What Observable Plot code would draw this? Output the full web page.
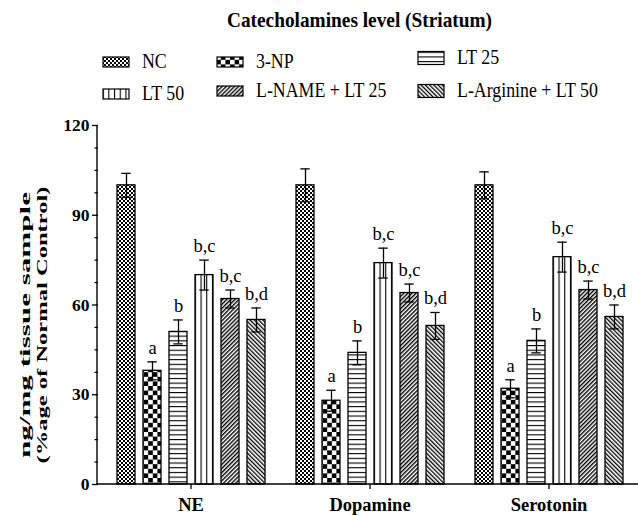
<!DOCTYPE html>
<html>
<head>
<meta charset="utf-8">
<script src="https://cdn.jsdelivr.net/npm/d3@7"></script>
<script src="https://cdn.jsdelivr.net/npm/@observablehq/plot@0.6"></script>
<style>
  body { margin: 0; background: #fff; }
  #chart { width: 638px; height: 515px; position: relative; overflow: hidden; background: #fff;
           font-family: "Liberation Serif", "Times New Roman", serif; }
  #chart svg { display: block; }
  #chart svg text { font-family: "Liberation Serif", "Times New Roman", serif; }
</style>
</head>
<body>
<div id="chart"></div>
<script>
// Brain regions measured (one bar group each)
const groups = ["NE", "Dopamine", "Serotonin"];
// Treatment groups (one bar per group)
const series = ["NC", "3-NP", "LT 25", "LT 50", "L-NAME + LT 25", "L-Arginine + LT 50"];
// Mean level, % of normal control
const neMeans = [100, 38, 51, 70, 62, 55];
const dopamineMeans = [100, 28, 44, 74, 64, 53];
const serotoninMeans = [100, 32, 48, 76, 65, 56];
// Error (±)
const neErrors = [4, 3, 4, 5, 3, 4];
const dopamineErrors = [5.5, 3.5, 4, 5, 3, 4.5];
const serotoninErrors = [4.5, 3, 4, 5, 3, 4];
// Significance letters above each bar
const significance = ["", "a", "b", "b,c", "b,c", "b,d"];
// Axis ticks
const yTicks = [0, 30, 60, 90, 120];
const yMinorTicks = [7.5, 15, 22.5, 37.5, 45, 52.5, 67.5, 75, 82.5, 97.5, 105, 112.5];

const title = "Catecholamines level (Striatum)";
const yLabelLines = ["ng/mg tissue sample", "(%age of Normal Control)"];

const means = [neMeans, dopamineMeans, serotoninMeans];
const errors = [neErrors, dopamineErrors, serotoninErrors];
const rows = groups.flatMap((g, gi) => series.map((s, si) => ({
  group: g, series: s, mean: means[gi][si], err: errors[gi][si], sig: significance[si]
})));

const serif = '"Liberation Serif", "Times New Roman", serif';
const patternIds = ["pat-nc", "pat-np", "pat-lt25", "pat-lt50", "pat-lname", "pat-larg"];
const fillOf = (s) => `url(#${patternIds[series.indexOf(s)]})`;

// ---------- header: title, legend and shared hatch patterns ----------
const header = d3.select("#chart").append("svg")
  .attr("width", 638).attr("height", 110)
  .attr("font-family", serif);

const defs = header.append("defs");
function pattern(id, w, h, transform) {
  const p = defs.append("pattern").attr("id", id)
    .attr("patternUnits", "userSpaceOnUse").attr("width", w).attr("height", h);
  if (transform) p.attr("patternTransform", transform);
  p.append("rect").attr("width", w).attr("height", h).attr("fill", "white");
  return p;
}
// NC: fine checkerboard
let p = pattern("pat-nc", 4, 4);
p.append("rect").attr("width", 2).attr("height", 2).attr("fill", "black");
p.append("rect").attr("x", 2).attr("y", 2).attr("width", 2).attr("height", 2).attr("fill", "black");
// 3-NP: coarse checkerboard
p = pattern("pat-np", 9.2, 9.2);
p.append("rect").attr("width", 4.6).attr("height", 4.6).attr("fill", "black");
p.append("rect").attr("x", 4.6).attr("y", 4.6).attr("width", 4.6).attr("height", 4.6).attr("fill", "black");
// LT 25: horizontal lines
p = pattern("pat-lt25", 8, 4.7);
p.append("rect").attr("y", 0).attr("width", 8).attr("height", 1.1).attr("fill", "black");
// LT 50: vertical lines
p = pattern("pat-lt50", 5.7, 8);
p.append("rect").attr("x", 0).attr("width", 1.1).attr("height", 8).attr("fill", "black");
// L-NAME + LT 25: forward diagonals
p = pattern("pat-lname", 2.9, 10, "rotate(45)");
p.append("rect").attr("width", 1.4).attr("height", 10).attr("fill", "black");
// L-Arginine + LT 50: backward diagonals
p = pattern("pat-larg", 3, 10, "rotate(-45)");
p.append("rect").attr("width", 1.3).attr("height", 10).attr("fill", "black");

header.append("text")
  .attr("x", 359.5).attr("y", 27)
  .attr("text-anchor", "middle")
  .attr("font-family", serif)
  .attr("font-weight", "bold").attr("font-size", 21.5)
  .attr("textLength", 265).attr("lengthAdjust", "spacingAndGlyphs")
  .text(title);

// legend: three columns, two rows; text is slightly condensed
const legendCols = [103, 217, 418];
const legendBaselines = [[68, 68, 64], [100, 97, 97]];
const swatchHeights = [10, 10, 13, 10, 10, 13];
series.forEach((s, i) => {
  const col = i % 3, row = Math.floor(i / 3);
  const x = legendCols[col], base = legendBaselines[row][col];
  const h = swatchHeights[i];
  const g = header.append("g");
  g.append("rect")
    .attr("x", x).attr("y", base - 6 - h / 2)
    .attr("width", 26).attr("height", h)
    .attr("fill", fillOf(s)).attr("stroke", "black").attr("stroke-width", 1.2);
  g.append("text")
    .attr("transform", `translate(${x + 39},${base}) scale(0.87,1)`)
    .attr("font-family", serif)
    .attr("font-size", 20.5)
    .text(s);
});

// ---------- grouped bar chart ----------
const plot = Plot.plot({
  width: 638,
  height: 405,
  marginTop: 15,
  marginBottom: 31,
  marginLeft: 100,
  marginRight: 0,
  style: { fontFamily: serif, background: "white", color: "black" },
  fx: { domain: groups, padding: 0, label: null },
  x: { domain: series, paddingInner: 0.31, paddingOuter: 0.51, axis: null },
  y: { domain: [0, 120], label: null },
  color: { type: "identity" },
  marks: [
    Plot.barY(rows, {
      fx: "group", x: "series", y: "mean",
      fill: (d) => fillOf(d.series), stroke: "black", strokeWidth: 1.3
    }),
    Plot.ruleX(rows, {
      fx: "group", x: "series",
      y1: (d) => d.mean - d.err, y2: (d) => d.mean + d.err,
      stroke: "black", strokeWidth: 1.3
    }),
    Plot.tickY(rows, {
      fx: "group", x: "series", y: (d) => d.mean + d.err,
      insetLeft: 4.3, insetRight: 4.3, stroke: "black", strokeWidth: 1.3
    }),
    Plot.tickY(rows, {
      fx: "group", x: "series", y: (d) => d.mean - d.err,
      insetLeft: 4.3, insetRight: 4.3, stroke: "black", strokeWidth: 1.3
    }),
    Plot.text(rows.filter((d) => d.sig), {
      fx: "group", x: "series", y: (d) => d.mean + d.err,
      text: "sig", lineAnchor: "bottom", dy: -8,
      fontSize: 18.5, fontFamily: serif, fill: "black"
    }),
    Plot.axisY(yTicks, {
      tickSize: 6, tickPadding: 3, dx: -3,
      fontSize: 17.5, fontWeight: "bold", fontFamily: serif, strokeWidth: 1.3, label: null
    }),
    Plot.axisY(yMinorTicks, {
      tickSize: 3.5, dx: -3, tickFormat: () => "", strokeWidth: 1.2, label: null
    }),
    Plot.axisFx({
      anchor: "bottom", tickSize: 5, tickPadding: 8,
      fontSize: 18.5, fontWeight: "bold", fontFamily: serif, strokeWidth: 1.3, label: null
    })
  ]
});

document.getElementById("chart").appendChild(plot);

// axis lines and the rotated y-axis title
const y = plot.scale("y");
const svg = d3.select(plot);
const axisX = 97;
svg.append("line")
  .attr("x1", axisX).attr("x2", 638)
  .attr("y1", y.apply(0)).attr("y2", y.apply(0))
  .attr("stroke", "black").attr("stroke-width", 1.4);
svg.append("line")
  .attr("x1", axisX).attr("x2", axisX)
  .attr("y1", y.apply(0)).attr("y2", y.apply(120))
  .attr("stroke", "black").attr("stroke-width", 1.4);

const labelCenter = 325 - 110;
[[30, 266], [47, 277]].forEach(([bx, len], i) => {
  svg.append("text")
    .attr("transform", `translate(${bx},${labelCenter}) rotate(-90)`)
    .attr("text-anchor", "middle")
    .attr("font-family", serif)
    .attr("font-weight", "bold").attr("font-size", 15)
    .attr("textLength", len).attr("lengthAdjust", "spacingAndGlyphs")
    .text(yLabelLines[i]);
});
</script>
</body>
</html>
